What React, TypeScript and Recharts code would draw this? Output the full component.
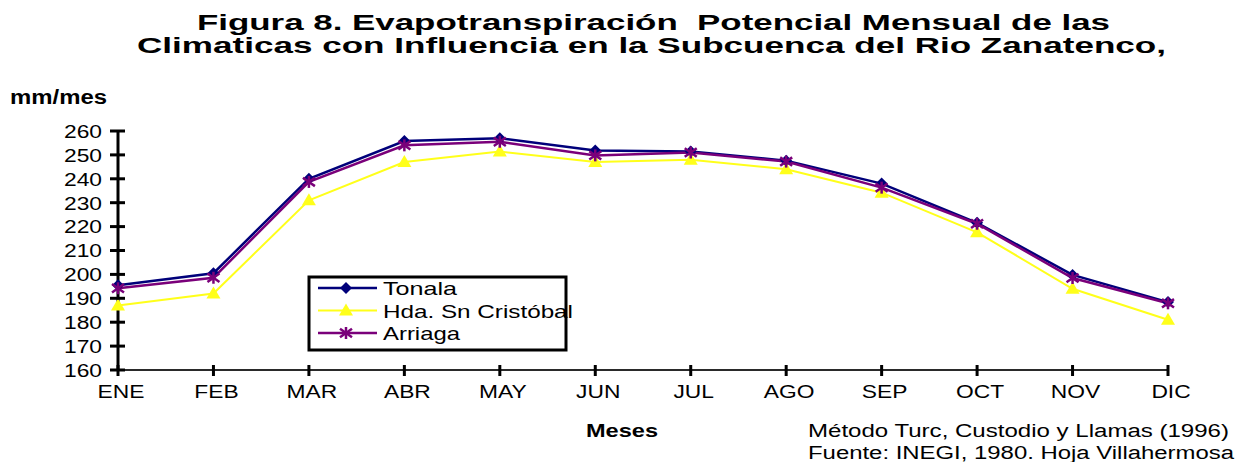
import React from "react";
import { CartesianGrid, Line, LineChart, XAxis, YAxis } from "recharts";

const months = ["ENE", "FEB", "MAR", "ABR", "MAY", "JUN", "JUL", "AGO", "SEP", "OCT", "NOV", "DIC"];
const tonala = [195.5, 200.5, 240, 255.8, 257, 251.8, 251.4, 247.6, 238, 221.6, 199.8, 188.4];
const hdaSnCristobal = [187, 192, 231, 247, 251.4, 247, 248, 244, 234.2, 217.6, 194, 181];
const arriaga = [194.2, 198.6, 238.7, 254, 255.5, 249.8, 251, 247.2, 236.3, 221.2, 198.5, 187.9];
const yTicks = [160, 170, 180, 190, 200, 210, 220, 230, 240, 250, 260];

const W = 1257;
const H = 462;
const FONT = "Arial, 'Liberation Sans', sans-serif";
const STRETCH = 1.2;

const data = months.map((m, i) => ({
  month: m,
  tonala: tonala[i],
  hda: hdaSnCristobal[i],
  arriaga: arriaga[i],
}));

type Shape = "diamond" | "triangle" | "star";

function Marker({ cx, cy, shape, color }: { cx: number; cy: number; shape: Shape; color: string }) {
  if (shape === "diamond") {
    return <polygon points={`${cx},${cy - 6} ${cx + 6},${cy} ${cx},${cy + 6} ${cx - 6},${cy}`} fill={color} />;
  }
  if (shape === "triangle") {
    return <polygon points={`${cx},${cy - 7} ${cx + 7},${cy + 5} ${cx - 7},${cy + 5}`} fill={color} />;
  }
  const r = 6;
  return (
    <g stroke={color} strokeWidth={2.5}>
      <line x1={cx} y1={cy - r} x2={cx} y2={cy + r} />
      <line x1={cx - r} y1={cy - r * 0.7} x2={cx + r} y2={cy + r * 0.7} />
      <line x1={cx - r} y1={cy + r * 0.7} x2={cx + r} y2={cy - r * 0.7} />
    </g>
  );
}

const series = [
  { key: "tonala", name: "Tonala", color: "#00007a", shape: "diamond" as Shape, width: 2.5, textLen: 74 },
  { key: "hda", name: "Hda. Sn Cristóbal", color: "#ffff1a", shape: "triangle" as Shape, width: 2, textLen: 190 },
  { key: "arriaga", name: "Arriaga", color: "#7a007a", shape: "star" as Shape, width: 2.5, textLen: 77 },
];

function makeDot(shape: Shape, color: string) {
  return (p: any) => {
    if (p.cx == null || p.cy == null) return <g key={`e-${p.index}`} />;
    return (
      <g key={`${shape}-${p.index}`}>
        <Marker cx={p.cx} cy={p.cy} shape={shape} color={color} />
      </g>
    );
  };
}

// y axis: tickSize 8, tickMargin 9 -> axis at x + 17
function YTick(p: any) {
  const axisX = p.x + 17;
  return (
    <g>
      <line x1={axisX - 8} x2={axisX + 7} y1={p.y} y2={p.y} stroke="#000" strokeWidth={3} />
      <text
        transform={`translate(${p.x + 1},${p.y}) scale(${STRETCH},1)`}
        textAnchor="end"
        dy="0.36em"
        fontSize={19}
        fontFamily={FONT}
        fill="#000"
      >
        {p.payload.value}
      </text>
    </g>
  );
}

// x axis: tickSize 6, tickMargin 8 -> axis at y - 14
function XTick(p: any) {
  const axisY = p.y - 14;
  return (
    <g>
      <line x1={p.x} x2={p.x} y1={axisY - 5} y2={axisY + 6} stroke="#000" strokeWidth={3} />
      <text
        transform={`translate(${p.x + 3},${p.y + 14}) scale(${STRETCH},1)`}
        textAnchor="middle"
        fontSize={19}
        fontFamily={FONT}
        fill="#000"
      >
        {p.payload.value}
      </text>
    </g>
  );
}

export default function App() {
  return (
    <div style={{ position: "absolute", left: 0, top: 0, width: W, height: H, background: "#fff" }}>
      <LineChart width={W} height={H} data={data} margin={{ top: 131, right: 89, left: 60, bottom: 78 }}>
        <CartesianGrid stroke="none" />
        <XAxis
          dataKey="month"
          tickLine={false}
          tickSize={6}
          tickMargin={8}
          axisLine={{ stroke: "#2a2a2a", strokeWidth: 2 }}
          tick={<XTick />}
          interval={0}
          height={14}
        />
        <YAxis
          domain={[160, 260]}
          ticks={yTicks}
          tickLine={false}
          tickSize={8}
          tickMargin={9}
          axisLine={{ stroke: "#000", strokeWidth: 3 }}
          tick={<YTick />}
          width={58}
          interval={0}
        />
        {series.map((s) => (
          <Line
            key={s.key}
            dataKey={s.key}
            name={s.name}
            type="linear"
            stroke={s.color}
            strokeWidth={s.width}
            dot={makeDot(s.shape, s.color)}
            activeDot={false}
            isAnimationActive={false}
          />
        ))}
      </LineChart>
      <svg
        width={W}
        height={H}
        style={{ position: "absolute", left: 0, top: 0, pointerEvents: "none" }}
        fontFamily={FONT}
      >
        <text x={197} y={30} fontSize={22} fontWeight="bold" textLength={913} lengthAdjust="spacingAndGlyphs" style={{ whiteSpace: "pre" }}>
          {"Figura 8. Evapotranspiración  Potencial Mensual de las"}
        </text>
        <text x={137} y={53} fontSize={22} fontWeight="bold" textLength={1029} lengthAdjust="spacingAndGlyphs">
          Climaticas con Influencia en la Subcuenca del Rio Zanatenco,
        </text>
        <text x={10} y={104} fontSize={20} fontWeight="bold" textLength={97} lengthAdjust="spacingAndGlyphs">
          mm/mes
        </text>
        <text x={586} y={437} fontSize={19} fontWeight="bold" textLength={72} lengthAdjust="spacingAndGlyphs">
          Meses
        </text>
        <text x={808} y={437} fontSize={18} textLength={421} lengthAdjust="spacingAndGlyphs">
          Método Turc, Custodio y Llamas (1996)
        </text>
        <text x={808} y={459} fontSize={18} textLength={426} lengthAdjust="spacingAndGlyphs">
          Fuente: INEGI, 1980. Hoja Villahermosa
        </text>
        <rect x={309} y={277} width={257} height={73} fill="#fff" stroke="#000" strokeWidth={3} />
        {series.map((s, i) => {
          const y = 288 + i * 22.5;
          return (
            <g key={s.key}>
              <line x1={318} x2={377} y1={y} y2={y} stroke={s.color} strokeWidth={s.width} />
              <Marker cx={346} cy={y} shape={s.shape} color={s.color} />
              <text x={383} y={y + 7} fontSize={19} textLength={s.textLen} lengthAdjust="spacingAndGlyphs">
                {s.name}
              </text>
            </g>
          );
        })}
      </svg>
    </div>
  );
}
